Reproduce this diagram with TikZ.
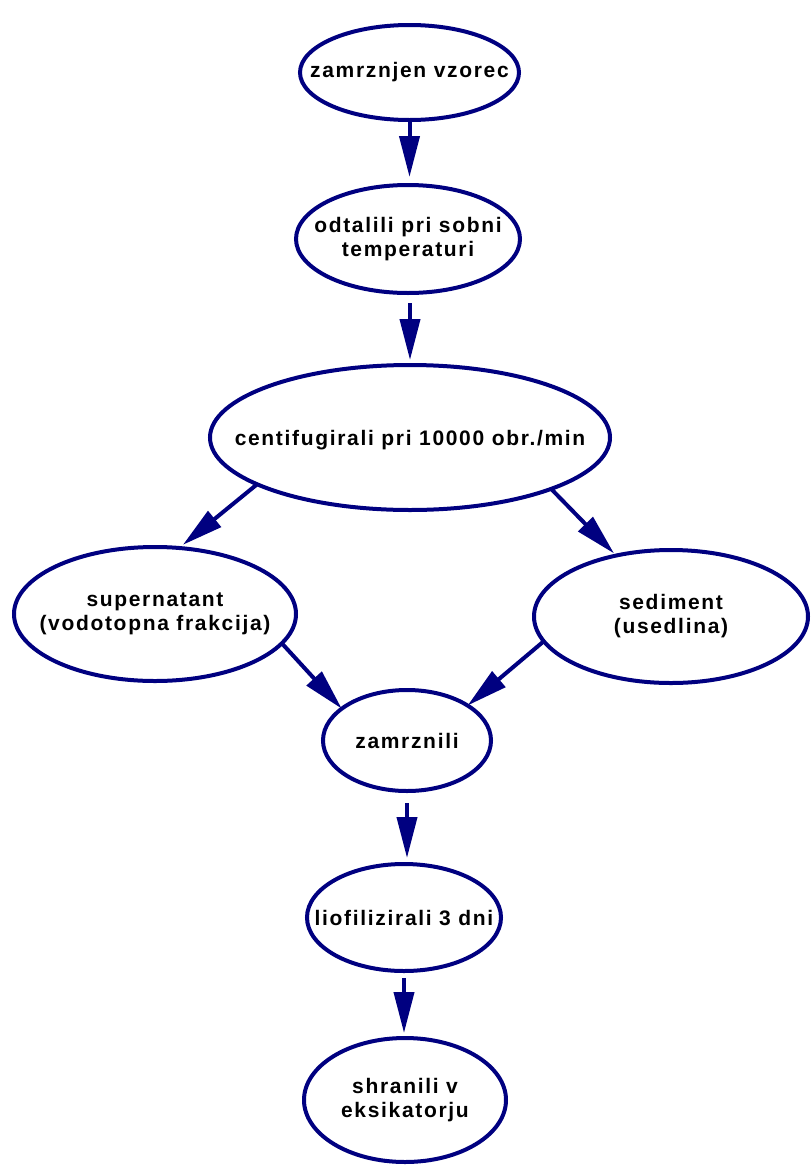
\documentclass[tikz,border=0pt]{standalone}
\usepackage{fontspec}
\setmainfont{Liberation Sans}
\newfontfamily\lblfont[LetterSpace=8]{Liberation Sans}
\usetikzlibrary{arrows.meta,shapes.geometric}
\definecolor{edgeblue}{RGB}{0,0,128}
\tikzset{
  oval/.style={draw=edgeblue, line width=4pt, ellipse, inner sep=0pt, outer sep=0pt},
  txt/.style={font=\lblfont\bfseries\fontsize{21}{24}\selectfont, align=center, inner sep=0pt, text=black},
  flow/.style={draw=edgeblue, line width=4pt, -{Triangle[length=41pt,width=20pt]}}
}
\begin{document}
\begin{tikzpicture}[x=1pt,y=-1pt]
\useasboundingbox[fill=white] (0,0) rectangle (811,1165);
\node[oval, minimum width=219pt, minimum height=95pt] (n1) at (409.5,72.5) {};
\node[oval, minimum width=224pt, minimum height=108pt] (n2) at (408,239) {};
\node[oval, minimum width=400pt, minimum height=145pt] (n3) at (410,437.5) {};
\node[oval, minimum width=282pt, minimum height=134pt] (n4) at (155,614) {};
\node[oval, minimum width=274pt, minimum height=133pt] (n5) at (671,616.5) {};
\node[oval, minimum width=168pt, minimum height=101pt] (n6) at (407,740.5) {};
\node[oval, minimum width=194pt, minimum height=107pt] (n7) at (404,917.5) {};
\node[oval, minimum width=202pt, minimum height=124pt] (n8) at (405,1100) {};

\node[txt] (t1) at (n1) {zamrznjen vzorec};
\node[txt] (t2) at (n2) {odtalili pri sobni\\temperaturi};
\node[txt] (t3) at ([yshift=-3pt]n3.center) {centifugirali pri 10000 obr./min};
\node[txt] (t4) at (n4) {supernatant\\(vodotopna frakcija)};
\node[txt] (t5) at (n5) {sediment\\(usedlina)};
\node[txt] (t6) at (n6) {zamrznili};
\node[txt] (t7) at (n7) {liofilizirali 3 dni};
\node[txt] (t8) at (n8) {shranili v\\eksikatorju};

\draw[flow, shorten >=8pt] (n1.south) -- (n1.south |- n2.north);
\draw[flow, shorten <=10pt, shorten >=5pt] (n2.south -| n3.north) -- (n3.north);
\draw[flow, shorten >=5pt] (n3.197.9) -- (n4.70.6);
\draw[flow, shorten >=3pt] (n3.340.9) -- (n5.132.9);
\draw[flow] (n4.347.4) -- (n6.154.5);
\draw[flow] (n5.191.7) -- (n6.30.6);
\draw[flow, shorten <=12pt, shorten >=6pt] (n6.south) -- (n6.south |- n7.north);
\draw[flow, shorten <=7pt, shorten >=5pt] (n7.south) -- (n7.south |- n8.north);
\end{tikzpicture}
\end{document}
